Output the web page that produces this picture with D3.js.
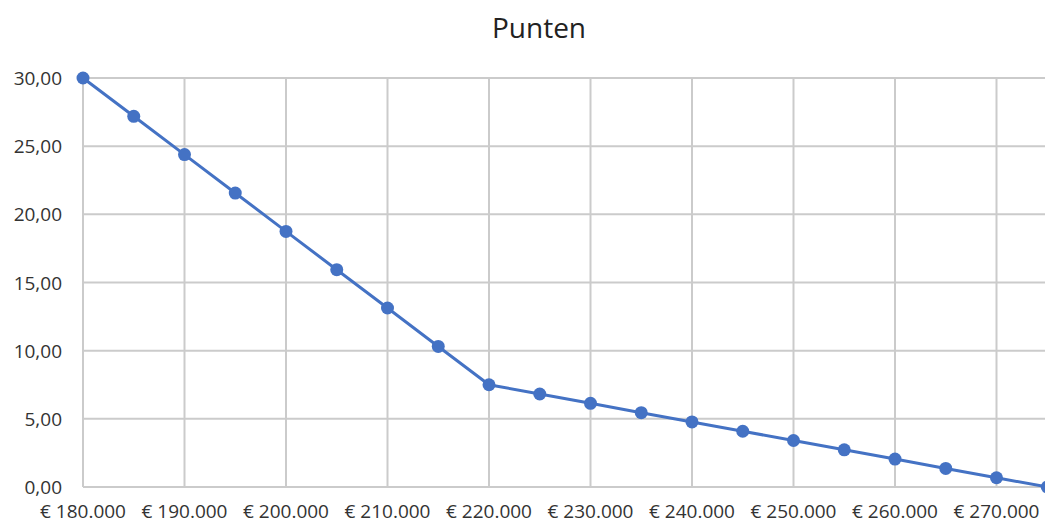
<!DOCTYPE html>
<html>
<head>
<meta charset="utf-8">
<script src="https://cdn.jsdelivr.net/npm/d3@7"></script>
<style>
  body { margin: 0; background: #fff; overflow: hidden; }
  svg { display: block; }
</style>
</head>
<body>
<svg id="chart" width="1045" height="525"></svg>
<script>
// price (euro) and points
var prices = [180000, 185000, 190000, 195000, 200000, 205000, 210000, 215000, 220000, 225000,
              230000, 235000, 240000, 245000, 250000, 255000, 260000, 265000, 270000, 275000];
var punten = [30, 27.19, 24.38, 21.56, 18.75, 15.94, 13.13, 10.31, 7.5, 6.82,
              6.14, 5.45, 4.77, 4.09, 3.41, 2.73, 2.05, 1.36, 0.68, 0];
var xTicks = [180000, 190000, 200000, 210000, 220000, 230000, 240000, 250000, 260000, 270000, 280000];
var yTicks = [0, 5, 10, 15, 20, 25, 30];

var svg = d3.select("#chart");
var plotLeft = 83, plotTop = 78, plotBottom = 487, plotRight = 1098;
var font = "'Open Sans', 'Noto Sans', sans-serif";

var x = d3.scaleLinear().domain([180000, 280000]).range([plotLeft, plotRight]);
var y = d3.scaleLinear().domain([0, 30]).range([plotBottom, plotTop]);

var fmtY = function(d) { return d.toFixed(2).replace(".", ","); };
var fmtX = function(d) { return "€ " + d3.format(",")(d).replace(/,/g, "."); };

svg.append("text")
    .attr("x", 539)
    .attr("y", 38)
    .attr("text-anchor", "middle")
    .attr("font-family", font)
    .attr("font-size", 28)
    .attr("fill", "#222")
    .text("Punten");

// gridlines
svg.append("g").selectAll("line").data(yTicks).enter().append("line")
    .attr("x1", plotLeft).attr("x2", plotRight)
    .attr("y1", function(d) { return y(d); })
    .attr("y2", function(d) { return y(d); })
    .attr("stroke", "#cbcbcb")
    .attr("stroke-width", 2);

svg.append("g").selectAll("line").data(xTicks).enter().append("line")
    .attr("y1", plotTop).attr("y2", plotBottom)
    .attr("x1", function(d) { return x(d); })
    .attr("x2", function(d) { return x(d); })
    .attr("stroke", "#cbcbcb")
    .attr("stroke-width", 2);

// axis labels (the last tick falls outside the visible window, like the reference crop)
svg.append("g").selectAll("text").data(xTicks.filter(function(d) { return x(d) < 1045; }))
  .enter().append("text")
    .attr("x", function(d) { return x(d); })
    .attr("y", 518)
    .attr("text-anchor", "middle")
    .attr("font-family", font)
    .attr("font-size", 19)
    .attr("fill", "#333")
    .text(fmtX);

svg.append("g").selectAll("text").data(yTicks).enter().append("text")
    .attr("x", 62)
    .attr("y", function(d) { return y(d) + 7; })
    .attr("text-anchor", "end")
    .attr("font-family", font)
    .attr("font-size", 19)
    .attr("fill", "#333")
    .text(fmtY);

// series
var pts = prices.map(function(p, i) { return { p: p, v: punten[i] }; });

svg.append("path")
    .datum(pts)
    .attr("fill", "none")
    .attr("stroke", "#4472C4")
    .attr("stroke-width", 3)
    .attr("d", d3.line().x(function(d) { return x(d.p); }).y(function(d) { return y(d.v); }));

svg.append("g").selectAll("circle").data(pts).enter().append("circle")
    .attr("cx", function(d) { return x(d.p); })
    .attr("cy", function(d) { return y(d.v); })
    .attr("r", 6.5)
    .attr("fill", "#4472C4");
</script>
</body>
</html>
